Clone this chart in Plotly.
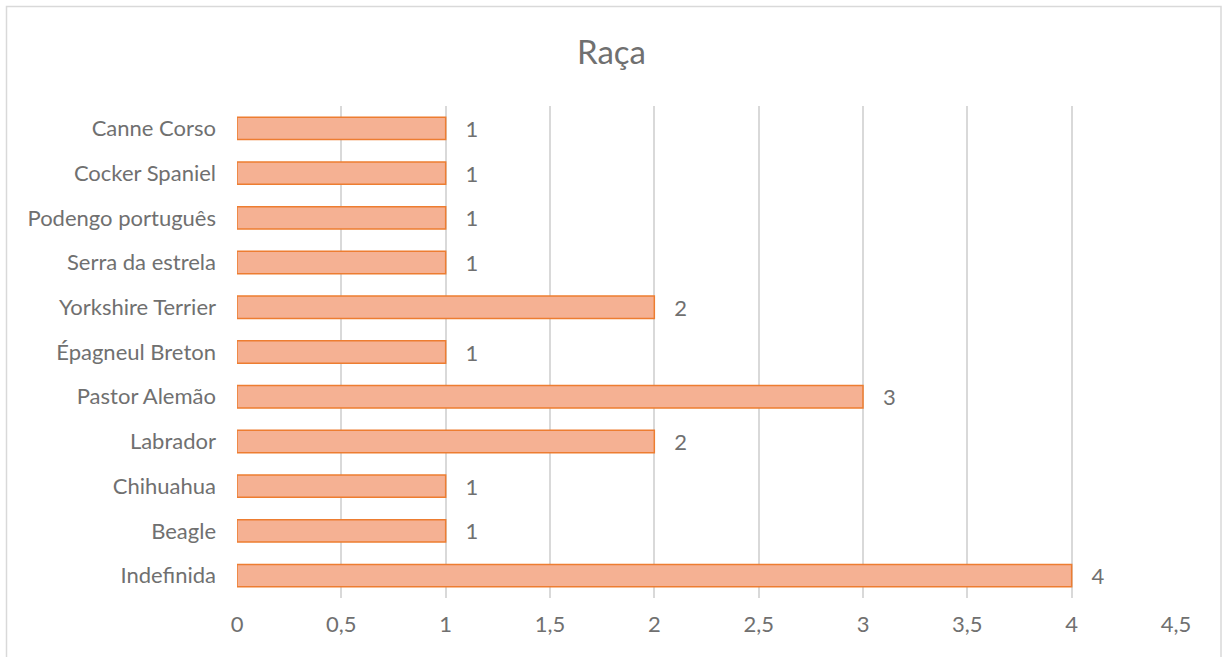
import plotly.graph_objects as go

categories = ["Indefinida", "Beagle", "Chihuahua", "Labrador", "Pastor Alemão",
              "Épagneul Breton", "Yorkshire Terrier", "Serra da estrela",
              "Podengo português", "Cocker Spaniel", "Canne Corso"]
values = [4, 1, 1, 2, 3, 1, 2, 1, 1, 1, 1]
title = "Raça"

W, H = 1223, 657
ml, mr, mt, mb = 237, 47, 106, 59
pw, ph = W - ml - mr, H - mt - mb
TXT = "#707070"

def px_x(p):
    return (p - ml) / pw

def px_y(p):
    return (H - mb - p) / ph

fig = go.Figure(go.Bar(
    y=categories, x=values, orientation="h", width=0.5,
    marker=dict(color="#F5B193", line=dict(color="#ED7D31", width=1.5)),
    text=[str(v) for v in values], texttemplate="   %{text}",
    textposition="outside", textangle=0, constraintext="none",
    textfont=dict(color=TXT, size=22), cliponaxis=False,
))

fig.update_layout(
    width=W, height=H, margin=dict(l=ml, r=mr, t=mt, b=mb),
    paper_bgcolor="white", plot_bgcolor="white",
    separators=",.",
    font=dict(family="Lato, Carlito, sans-serif", color=TXT, size=22),
    title=dict(text=title, x=0.5, xref="container", xanchor="center",
               y=1 - 52 / H, yref="container", yanchor="middle",
               font=dict(size=33, color=TXT)),
    showlegend=False,
    xaxis=dict(range=[0, 4.5], dtick=0.5, showgrid=True, gridcolor="#D9D9D9",
               gridwidth=1.5, zeroline=False, showline=False,
               ticks="", ticklabelstandoff=11, tickfont=dict(size=22, color=TXT)),
    yaxis=dict(showgrid=False, zeroline=False, showline=False, ticks="",
               ticklabelstandoff=20, tickfont=dict(size=22, color=TXT)),
    bargap=0.5,
    shapes=[dict(type="rect", xref="paper", yref="paper",
                 x0=px_x(6.5), x1=px_x(1221), y0=px_y(662), y1=px_y(6.5),
                 line=dict(color="#D9D9D9", width=1.5), layer="below")],
)
fig.write_html("out.html")
